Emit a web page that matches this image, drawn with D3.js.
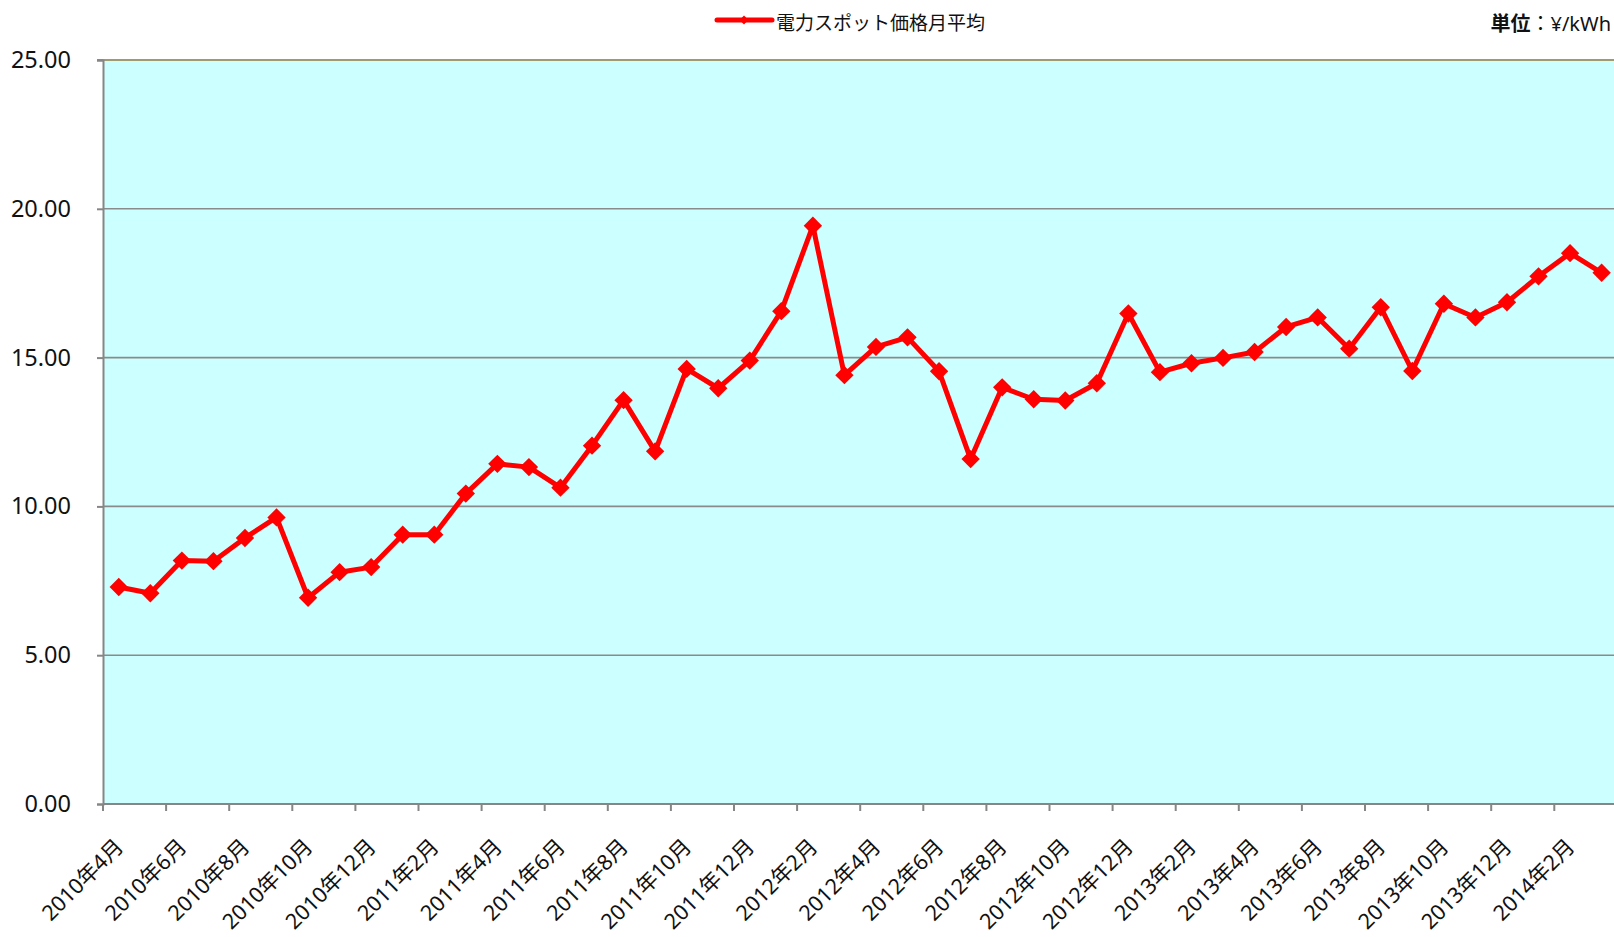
<!DOCTYPE html>
<html>
<head>
<meta charset="utf-8">
<script src="https://cdn.jsdelivr.net/npm/d3@7"></script>
<style>
  html, body { margin: 0; padding: 0; background: #ffffff; }
  svg { display: block; }
  text { font-family: "Noto Sans", "Noto Sans CJK JP", sans-serif; fill: #111; }
</style>
</head>
<body>
<svg id="chart" width="1614" height="937"></svg>
<script>
// Monthly average spot price (¥/kWh), April 2010 – March 2014
const months = [
  "2010年4月","2010年5月","2010年6月","2010年7月","2010年8月","2010年9月",
  "2010年10月","2010年11月","2010年12月","2011年1月","2011年2月","2011年3月",
  "2011年4月","2011年5月","2011年6月","2011年7月","2011年8月","2011年9月",
  "2011年10月","2011年11月","2011年12月","2012年1月","2012年2月","2012年3月",
  "2012年4月","2012年5月","2012年6月","2012年7月","2012年8月","2012年9月",
  "2012年10月","2012年11月","2012年12月","2013年1月","2013年2月","2013年3月",
  "2013年4月","2013年5月","2013年6月","2013年7月","2013年8月","2013年9月",
  "2013年10月","2013年11月","2013年12月","2014年1月","2014年2月","2014年3月"
];
const spotPrice = [
  7.29, 7.08, 8.18, 8.16, 8.94, 9.63,
  6.93, 7.79, 7.96, 9.05, 9.05, 10.43,
  11.43, 11.32, 10.63, 12.04, 13.57, 11.85,
  14.62, 13.97, 14.90, 16.56, 19.43, 14.41,
  15.36, 15.68, 14.54, 11.59, 14.00, 13.60,
  13.56, 14.14, 16.48, 14.51, 14.81, 14.99,
  15.19, 16.03, 16.35, 15.30, 16.69, 14.55,
  16.81, 16.35, 16.86, 17.73, 18.51, 17.85
];
const yTicks = [0, 5, 10, 15, 20, 25];
const seriesName = "電力スポット価格月平均";

const svg = d3.select("#chart");
const plot = { left: 103, right: 1617.4, top: 60, bottom: 804 };

const x = d3.scaleBand().domain(months).range([plot.left, plot.right]).padding(0);
const y = d3.scaleLinear().domain([0, 25]).range([plot.bottom, plot.top]);
const cx = d => x(d) + x.bandwidth() / 2;

// plot background
svg.append("rect")
  .attr("x", plot.left).attr("y", plot.top)
  .attr("width", plot.right - plot.left).attr("height", plot.bottom - plot.top)
  .attr("fill", "#ccffff");

// horizontal gridlines
svg.append("g").selectAll("line")
  .data(yTicks.filter(v => v > 0 && v < 25))
  .join("line")
  .attr("x1", plot.left).attr("x2", plot.right)
  .attr("y1", d => y(d)).attr("y2", d => y(d))
  .attr("stroke", "#8a8a8a").attr("stroke-width", 1.6);

// top border of the plot area
svg.append("line")
  .attr("x1", plot.left - 6).attr("x2", plot.right)
  .attr("y1", y(25)).attr("y2", y(25))
  .attr("stroke", "#9e9b70").attr("stroke-width", 2);

// y axis
const yAxis = svg.append("g")
  .attr("transform", `translate(${plot.left},0)`)
  .call(d3.axisLeft(y).tickValues(yTicks).tickFormat(d3.format(".2f")).tickSize(6).tickPadding(26));
yAxis.select(".domain").attr("stroke", "#868686").attr("stroke-width", 2);
yAxis.selectAll(".tick line").attr("stroke", "#868686").attr("stroke-width", 2);
yAxis.selectAll(".tick text")
  .style("font-family", "'Noto Sans', sans-serif")
  .style("font-size", "23.5px").attr("fill", "#111");

// x axis: line plus ticks every other month at category boundaries
const xg = svg.append("g");
xg.append("line")
  .attr("x1", plot.left).attr("x2", plot.right)
  .attr("y1", plot.bottom).attr("y2", plot.bottom)
  .attr("stroke", "#868686").attr("stroke-width", 2);
const labelled = months.filter((m, i) => i % 2 === 0);
xg.selectAll("line.tick")
  .data(labelled)
  .join("line").attr("class", "tick")
  .attr("x1", d => x(d)).attr("x2", d => x(d))
  .attr("y1", plot.bottom).attr("y2", plot.bottom + 7)
  .attr("stroke", "#868686").attr("stroke-width", 2);
xg.selectAll("text")
  .data(labelled)
  .join("text")
  .attr("transform", d => `translate(${cx(d) + 6},${plot.bottom + 44}) rotate(-45)`)
  .attr("text-anchor", "end")
  .style("font-size", "21.5px")
  .text(d => d);

// series line
svg.append("path")
  .datum(spotPrice)
  .attr("fill", "none")
  .attr("stroke", "#ff0000")
  .attr("stroke-width", 5)
  .attr("stroke-linejoin", "round")
  .attr("d", d3.line().x((v, i) => cx(months[i])).y(v => y(v)));

// diamond markers
const diamond = d3.symbol().type(d3.symbolDiamond2).size(215);
svg.append("g").selectAll("path")
  .data(spotPrice)
  .join("path")
  .attr("transform", (v, i) => `translate(${cx(months[i])},${y(v)})`)
  .attr("d", diamond)
  .attr("fill", "#ff0000");

// legend
const lg = svg.append("g");
lg.append("line")
  .attr("x1", 717).attr("x2", 772).attr("y1", 20).attr("y2", 20)
  .attr("stroke", "#ff0000").attr("stroke-width", 5).attr("stroke-linecap", "round");
lg.append("path")
  .attr("transform", "translate(744,20)")
  .attr("d", d3.symbol().type(d3.symbolDiamond2).size(50))
  .attr("fill", "#ff0000");
lg.append("text")
  .attr("x", 776).attr("y", 30)
  .style("font-family", "'Noto Sans CJK JP', sans-serif")
  .style("font-size", "19px").attr("fill", "#222")
  .text(seriesName);

// unit note
const unit = svg.append("text")
  .attr("x", 1611).attr("y", 31)
  .attr("text-anchor", "end")
  .style("font-size", "20px");
unit.append("tspan").style("font-weight", "bold").style("font-family", "'Noto Sans CJK JP', sans-serif").text("単位");
unit.append("tspan").style("font-family", "'Noto Sans CJK JP', sans-serif").text("：");
unit.append("tspan").style("font-family", "'Noto Sans', sans-serif").text("¥/kWh");
</script>
</body>
</html>
